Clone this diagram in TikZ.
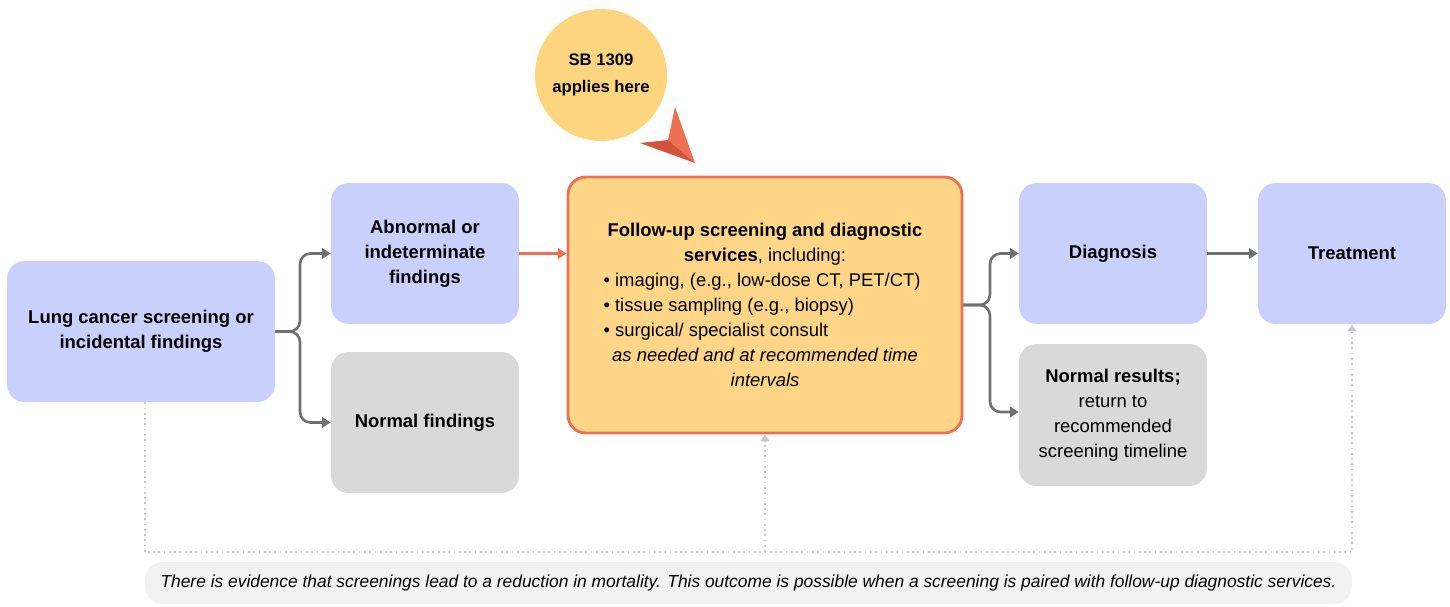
\documentclass[tikz,border=0pt]{standalone}
\usepackage{fontspec}
\setmainfont{Liberation Sans}
\usetikzlibrary{arrows.meta}
\definecolor{boxblue}{RGB}{201,208,251}
\definecolor{boxgray}{RGB}{217,217,217}
\definecolor{boxorange}{RGB}{255,214,135}
\definecolor{edgeorange}{RGB}{238,112,80}
\definecolor{tipdark}{RGB}{208,83,58}
\definecolor{linegray}{RGB}{112,112,112}
\definecolor{dotgray}{RGB}{200,200,200}
\definecolor{notegray}{RGB}{242,242,242}
\definecolor{circleyellow}{RGB}{253,213,126}
\newcommand{\bulletline}[1]{\makebox[6.46cm][l]{\textbullet\ #1}}

\begin{document}
\begin{tikzpicture}[x=0.02cm, y=-0.02cm, font=\fontsize{10.5}{14.2}\selectfont, text=black,
    stage/.style={rectangle, rounded corners=10pt, minimum width=3.76cm, minimum height=2.82cm, align=center, inner sep=2pt},
    bluestage/.style={stage, fill=boxblue},
    graystage/.style={stage, fill=boxgray},
    conn/.style={draw=linegray, line width=1.5pt, rounded corners=6pt, -{Triangle[length=5pt,width=6pt]}},
    fb/.style={draw=dotgray, line width=1pt, dotted, -{Triangle[length=4pt,width=5pt]}}]

\useasboundingbox (0,0) rectangle (1450,606);

\node[bluestage, minimum width=5.36cm] (lung) at (141,331.5) {\textbf{Lung cancer screening or}\\ \textbf{incidental findings}};
\node[bluestage] (abn) at (425,253.5) {\textbf{Abnormal or}\\ \textbf{indeterminate}\\ \textbf{findings}};
\node[graystage] (norm) at (425,422.5) {\textbf{Normal findings}};
\node[stage, fill=boxorange, draw=edgeorange, line width=1.6pt, minimum width=7.88cm, minimum height=5.12cm] (follow) at (765,305)
    {\textbf{Follow-up screening and diagnostic}\\ \textbf{services}, including:\\
     \bulletline{imaging, (e.g., low-dose CT, PET/CT)}\\ \bulletline{tissue sampling (e.g., biopsy)}\\ \bulletline{surgical/ specialist consult}\\
     \textit{as needed and at recommended time}\\ \textit{intervals}};
\node[bluestage] (diag) at (1113,253.5) {\textbf{Diagnosis}};
\node[graystage, minimum height=2.84cm] (normres) at (1113,415) {\textbf{Normal results;}\\ return to\\ recommended\\ screening timeline};
\node[bluestage] (treat) at (1352,253.5) {\textbf{Treatment}};

\node[circle, fill=circleyellow, minimum size=2.64cm, align=center, font=\fontsize{9.5}{15.5}\selectfont] (sb) at (601,75) {\textbf{SB 1309}\\ \textbf{applies here}};
\fill[edgeorange] (675,107) -- (695,163) -- (668,140) -- cycle;
\fill[tipdark] (640,143) -- (668,140) -- (695,163) -- cycle;

\draw[conn] (lung.east) -- (300,331.5) |- (abn.west);
\draw[conn] (lung.east) -- (300,331.5) |- (norm.west);
\draw[conn, draw=edgeorange, rounded corners=0pt] (abn.east) -- (abn.east -| follow.west);
\draw[conn] (follow.east) -- (990,305) |- (diag.west);
\draw[conn] (follow.east) -- (990,305) |- (normres.west |- 0,412);
\draw[conn] (diag.east) -- (treat.west);

\coordinate (loop) at (follow.south |- 0,552);
\draw[fb] (lung.south) ++(4,0) -- ++(0,150) -| (treat.south);
\draw[fb] (loop) -- (follow.south);

\node[rectangle, rounded corners=10pt, fill=notegray, minimum width=24.14cm, minimum height=0.84cm, font=\fontsize{9.9}{12}\selectfont] (note) at (748.5,583)
    {\textit{There is evidence that screenings lead to a reduction in mortality. This outcome is possible when a screening is paired with follow-up diagnostic services.}};
\end{tikzpicture}
\end{document}
